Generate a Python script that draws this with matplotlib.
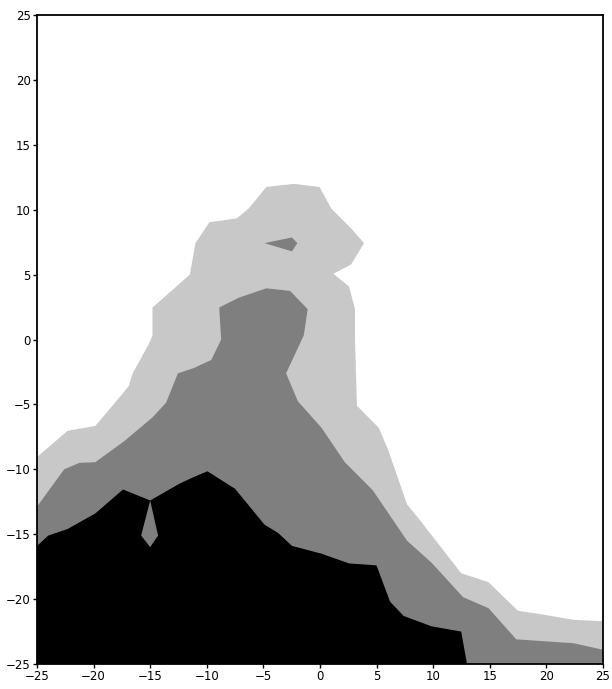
import numpy as np
import matplotlib
matplotlib.use("Agg")
from matplotlib import pyplot as plt

# contour boundaries (x, y in axis units)
light_x = [-25, -22.3, -19.85, -19.2, -16.9, -16.55, -15.15, -14.8, -14.8, -11.5, -11.0, -9.77,
           -7.34, -6.3, -4.73, -2.3, -0.03, 1.0, 2.75, 3.9, 2.75, 1.18, 2.57, 3.1, 3.1, 3.27,
           5.2, 6.05, 7.7, 9.0, 12.48, 14.9, 17.5, 19.8, 22.4, 25]
light_y = [-9.06, -7.03, -6.65, -6.0, -3.6, -2.6, -0.4, 0.31, 2.47, 5.0, 7.43, 9.04,
           9.34, 10.1, 11.76, 12.0, 11.76, 10.1, 8.58, 7.43, 5.78, 5.07, 4.1, 2.34, 0.0, -5.1,
           -6.8, -8.55, -12.7, -14.1, -18.0, -18.7, -20.9, -21.2, -21.6, -21.7]

mid_x = [-25, -22.6, -21.25, -19.85, -17.25, -14.8, -13.6, -12.55, -11.16, -9.6, -8.73, -8.9,
         -7.16, -4.73, -2.64, -1.08, -1.43, -1.6, -2.99, -1.95, 0.14, 2.2, 4.66, 7.7, 9.87,
         12.65, 14.9, 17.35, 22.4, 25]
mid_y = [-12.87, -10.0, -9.5, -9.45, -7.8, -6.0, -4.87, -2.6, -2.2, -1.57, 0.0, 2.47,
         3.23, 3.95, 3.75, 2.34, 0.31, 0.0, -2.6, -4.75, -6.8, -9.45, -11.6, -15.5, -17.2,
         -19.85, -20.7, -23.1, -23.4, -23.9]

island_x = [-4.9, -2.47, -2.0, -2.47]
island_y = [7.43, 7.87, 7.43, 6.8]

black_x = [-25, -24.0, -22.3, -19.85, -17.4, -15.0, -15.8, -15.0, -14.3, -15.0, -12.4, -11.16,
           -9.94, -7.5, -4.9, -3.7, -2.47, 0.14, 2.57, 5.0, 6.2, 7.4, 9.87, 12.48, 13.0]
black_y = [-15.9, -15.1, -14.6, -13.4, -11.55, -12.4, -15.1, -16.0, -15.1, -12.4, -11.1, -10.6,
           -10.15, -11.5, -14.26, -14.9, -15.9, -16.5, -17.25, -17.4, -20.2, -21.3, -22.1, -22.5, -25]

fig = plt.figure(figsize=(6.12, 6.89), dpi=100)
ax = fig.add_axes([0.0605, 0.0363, 0.9245, 0.9417])


def fill_down(x, y, color):
    # close the shape along the bottom of the box
    xs = [x[0]] + list(x) + [x[-1], x[0]]
    ys = [-25] + list(y) + [-25, -25]
    ax.fill(xs, ys, color=color, lw=0)


fill_down(light_x, light_y, "#c8c8c8")
fill_down(mid_x, mid_y, "#7f7f7f")
ax.fill(island_x, island_y, color="#7f7f7f", lw=0)
fill_down(black_x, black_y, "#000000")

ax.set_xlim(-25, 25)
ax.set_ylim(-25, 25)
ticks = np.arange(-25, 26, 5)
ax.set_xticks(ticks)
ax.set_yticks(ticks)
ax.tick_params(direction="out", length=3, width=1, labelsize=8.5, pad=1.5)
for s in ax.spines.values():
    s.set_linewidth(1.3)

fig.savefig("out.png", dpi=100)
